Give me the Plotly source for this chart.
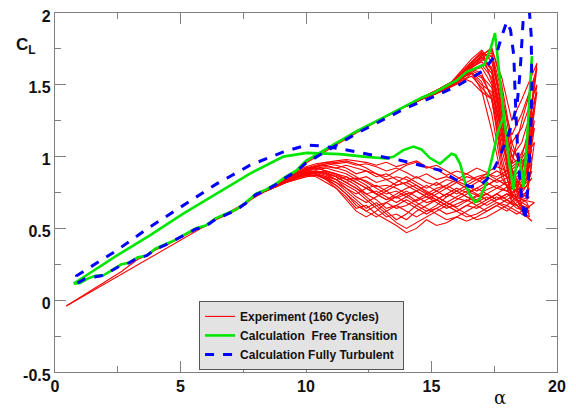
import plotly.graph_objects as go

# ---- experiment (red): shared low-alpha branches ----
exp_up_alpha = [0.45, 1.0, 1.6, 2.2, 2.65, 2.95, 3.3, 3.65, 4.0, 4.4, 4.8, 5.2, 5.6, 6.0,
                6.4, 6.8, 7.2, 7.6, 8.0, 8.4, 8.8, 9.2, 9.6, 10.0, 11.0, 12.0, 13.0, 14.0]
exp_up_cl = [-0.04, 0.02, 0.09, 0.15, 0.20, 0.24, 0.285, 0.31, 0.35, 0.38, 0.415, 0.455, 0.49, 0.515,
             0.56, 0.59, 0.625, 0.67, 0.73, 0.76, 0.80, 0.85, 0.89, 0.955, 1.06, 1.165, 1.26, 1.35]
exp_dn_low_alpha = [8.4, 7.5, 6.0, 4.5, 3.0, 1.5, 0.45]
exp_dn_low_cl = [0.76, 0.67, 0.52, 0.37, 0.22, 0.07, -0.04]

# ---- experiment: individual cycles at high alpha ----
hi_alpha = [14.0, 14.6, 15.2, 15.8, 16.2, 16.6, 17.0, 17.4, 17.8, 18.2, 18.6]
dn_alpha = [18.8, 18.4, 18.0, 17.6, 17.2, 16.8, 16.4, 16.0, 15.6, 15.2, 14.8, 14.4, 14.0, 13.6,
            13.2, 12.8, 12.4, 12.0, 11.6, 11.2, 10.8, 10.4, 10.0, 9.6, 9.2, 8.8, 8.4]
cycle_amax = [19.0, 18.9, 19.2, 18.9, 19.1, 19.0, 19.2, 18.9, 19.0, 19.1, 18.9, 19.1, 19.0, 19.1,
              19.0, 19.2, 18.9, 19.1, 19.0, 19.1, 19.2, 18.9]
cycle_cl_amax = [1.05, 0.72, 1.62, 0.60, 1.20, 0.95, 1.45, 0.58, 0.90, 1.55, 0.64, 1.35, 0.55, 1.10,
                 0.85, 1.65, 0.78, 1.25, 1.00, 0.68, 1.50, 0.62]

cyc01_up = [1.35, 1.40, 1.45, 1.50, 1.56, 1.62, 1.68, 1.74, 1.30, 0.85, 0.80]
cyc02_up = [1.35, 1.40, 1.44, 1.49, 1.52, 1.58, 1.55, 1.42, 1.10, 0.80, 0.70]
cyc03_up = [1.35, 1.41, 1.46, 1.51, 1.58, 1.66, 1.72, 1.60, 1.20, 0.95, 1.25]
cyc04_up = [1.35, 1.40, 1.45, 1.50, 1.55, 1.52, 1.45, 1.40, 0.95, 0.75, 0.65]
cyc05_up = [1.35, 1.40, 1.45, 1.51, 1.57, 1.64, 1.70, 1.76, 1.50, 1.10, 0.90]
cyc06_up = [1.35, 1.40, 1.44, 1.50, 1.54, 1.60, 1.62, 1.50, 1.05, 0.78, 0.85]
cyc07_up = [1.35, 1.41, 1.46, 1.52, 1.60, 1.68, 1.74, 1.66, 1.35, 1.00, 1.10]
cyc08_up = [1.35, 1.40, 1.45, 1.50, 1.55, 1.58, 1.50, 1.45, 1.20, 0.70, 0.62]
cyc09_up = [1.35, 1.40, 1.45, 1.50, 1.56, 1.62, 1.66, 1.58, 1.25, 0.90, 0.78]
cyc10_up = [1.35, 1.41, 1.46, 1.52, 1.58, 1.65, 1.72, 1.70, 1.40, 1.15, 1.30]
cyc11_up = [1.35, 1.40, 1.44, 1.49, 1.53, 1.56, 1.48, 1.40, 1.00, 0.72, 0.66]
cyc12_up = [1.35, 1.40, 1.45, 1.51, 1.57, 1.63, 1.69, 1.62, 1.30, 0.95, 1.00]
cyc13_up = [1.35, 1.40, 1.45, 1.50, 1.56, 1.60, 1.56, 1.48, 1.15, 0.80, 0.62]
cyc14_up = [1.35, 1.41, 1.46, 1.52, 1.58, 1.64, 1.70, 1.72, 1.45, 1.05, 0.95]
cyc15_up = [1.35, 1.40, 1.45, 1.50, 1.55, 1.60, 1.64, 1.55, 1.20, 0.88, 0.75]
cyc16_up = [1.35, 1.41, 1.46, 1.51, 1.57, 1.63, 1.71, 1.75, 1.55, 1.25, 1.40]
cyc17_up = [1.35, 1.40, 1.44, 1.49, 1.54, 1.59, 1.52, 1.30, 0.90, 0.68, 0.72]
cyc18_up = [1.35, 1.40, 1.45, 1.51, 1.56, 1.62, 1.67, 1.70, 1.35, 1.00, 0.92]
cyc19_up = [1.35, 1.40, 1.45, 1.50, 1.56, 1.58, 1.46, 1.18, 0.85, 0.74, 0.80]
cyc20_up = [1.35, 1.41, 1.46, 1.52, 1.59, 1.66, 1.73, 1.52, 1.15, 0.85, 0.70]
cyc21_up = [1.35, 1.40, 1.45, 1.50, 1.55, 1.61, 1.58, 1.40, 1.05, 1.10, 1.20]
cyc22_up = [1.35, 1.40, 1.45, 1.51, 1.57, 1.64, 1.69, 1.60, 1.25, 0.92, 0.66]

cyc01_dn = [0.95, 0.78, 0.72, 0.70, 0.74, 0.72, 0.69, 0.71, 0.74, 0.70, 0.72, 0.76, 0.74, 0.78,
            0.80, 0.79, 0.83, 0.85, 0.84, 0.88, 0.90, 0.89, 0.88, 0.86, 0.83, 0.80, 0.77]
cyc02_dn = [0.70, 0.66, 0.68, 0.72, 0.68, 0.64, 0.66, 0.62, 0.60, 0.64, 0.62, 0.58, 0.62, 0.66,
            0.64, 0.70, 0.74, 0.78, 0.82, 0.86, 0.88, 0.90, 0.89, 0.87, 0.84, 0.80, 0.77]
cyc03_dn = [1.05, 0.92, 0.85, 0.82, 0.86, 0.84, 0.80, 0.83, 0.86, 0.84, 0.88, 0.85, 0.89, 0.92,
            0.90, 0.93, 0.95, 0.94, 0.96, 0.95, 0.96, 0.94, 0.92, 0.88, 0.85, 0.81, 0.77]
cyc04_dn = [0.62, 0.64, 0.70, 0.66, 0.62, 0.66, 0.70, 0.67, 0.64, 0.68, 0.72, 0.69, 0.74, 0.71,
            0.76, 0.80, 0.78, 0.82, 0.86, 0.84, 0.87, 0.89, 0.87, 0.85, 0.82, 0.79, 0.76]
cyc05_dn = [0.85, 0.80, 0.76, 0.78, 0.82, 0.78, 0.75, 0.78, 0.74, 0.70, 0.66, 0.62, 0.56, 0.60,
            0.58, 0.64, 0.70, 0.76, 0.80, 0.84, 0.86, 0.88, 0.90, 0.88, 0.84, 0.80, 0.77]
cyc06_dn = [0.75, 0.72, 0.76, 0.80, 0.77, 0.73, 0.76, 0.72, 0.68, 0.72, 0.75, 0.80, 0.84, 0.86,
            0.84, 0.88, 0.90, 0.92, 0.94, 0.92, 0.93, 0.92, 0.91, 0.89, 0.85, 0.81, 0.77]
cyc07_dn = [0.92, 0.86, 0.82, 0.78, 0.74, 0.70, 0.72, 0.76, 0.80, 0.78, 0.74, 0.70, 0.66, 0.64,
            0.68, 0.66, 0.62, 0.66, 0.74, 0.80, 0.84, 0.87, 0.86, 0.84, 0.82, 0.79, 0.76]
cyc08_dn = [0.66, 0.70, 0.74, 0.70, 0.74, 0.78, 0.74, 0.70, 0.66, 0.62, 0.58, 0.54, 0.50, 0.54,
            0.60, 0.66, 0.72, 0.78, 0.82, 0.86, 0.88, 0.90, 0.88, 0.86, 0.83, 0.80, 0.77]
cyc09_dn = [0.80, 0.74, 0.70, 0.74, 0.70, 0.66, 0.62, 0.58, 0.56, 0.60, 0.64, 0.68, 0.72, 0.76,
            0.74, 0.78, 0.82, 0.86, 0.90, 0.92, 0.94, 0.93, 0.91, 0.88, 0.84, 0.80, 0.77]
cyc10_dn = [0.98, 0.88, 0.90, 0.86, 0.88, 0.84, 0.86, 0.82, 0.84, 0.80, 0.82, 0.86, 0.82, 0.80,
            0.84, 0.82, 0.86, 0.84, 0.88, 0.90, 0.92, 0.91, 0.90, 0.87, 0.84, 0.80, 0.77]
cyc11_dn = [0.68, 0.72, 0.66, 0.68, 0.64, 0.60, 0.58, 0.62, 0.66, 0.70, 0.68, 0.72, 0.76, 0.72,
            0.68, 0.62, 0.58, 0.62, 0.70, 0.78, 0.84, 0.88, 0.88, 0.86, 0.83, 0.79, 0.76]
cyc12_dn = [0.88, 0.82, 0.86, 0.90, 0.86, 0.82, 0.78, 0.74, 0.78, 0.82, 0.78, 0.82, 0.86, 0.82,
            0.78, 0.74, 0.78, 0.82, 0.86, 0.88, 0.90, 0.92, 0.90, 0.88, 0.85, 0.81, 0.77]
cyc13_dn = [0.58, 0.62, 0.66, 0.62, 0.58, 0.56, 0.60, 0.64, 0.68, 0.72, 0.76, 0.80, 0.78, 0.74,
            0.70, 0.74, 0.78, 0.74, 0.78, 0.82, 0.85, 0.87, 0.86, 0.84, 0.82, 0.79, 0.76]
cyc14_dn = [0.72, 0.76, 0.80, 0.84, 0.88, 0.86, 0.82, 0.86, 0.90, 0.94, 0.92, 0.96, 0.94, 0.90,
            0.86, 0.88, 0.92, 0.95, 0.97, 0.96, 0.95, 0.93, 0.92, 0.89, 0.85, 0.81, 0.77]
cyc15_dn = [0.82, 0.76, 0.79, 0.74, 0.70, 0.73, 0.69, 0.65, 0.68, 0.64, 0.60, 0.64, 0.68, 0.72,
            0.70, 0.74, 0.80, 0.84, 0.82, 0.86, 0.89, 0.90, 0.89, 0.86, 0.83, 0.80, 0.77]
cyc16_dn = [1.10, 0.96, 0.90, 0.93, 0.89, 0.92, 0.88, 0.90, 0.87, 0.91, 0.93, 0.97, 0.95, 0.93,
            0.96, 0.94, 0.96, 0.97, 0.98, 0.97, 0.96, 0.95, 0.93, 0.90, 0.86, 0.81, 0.77]
cyc17_dn = [0.74, 0.68, 0.62, 0.66, 0.62, 0.58, 0.55, 0.58, 0.54, 0.52, 0.56, 0.50, 0.47, 0.52,
            0.56, 0.60, 0.66, 0.64, 0.72, 0.78, 0.82, 0.86, 0.87, 0.85, 0.83, 0.79, 0.76]
cyc18_dn = [0.90, 0.84, 0.80, 0.84, 0.80, 0.76, 0.80, 0.76, 0.72, 0.76, 0.80, 0.76, 0.72, 0.68,
            0.72, 0.76, 0.74, 0.80, 0.84, 0.87, 0.90, 0.92, 0.90, 0.87, 0.84, 0.80, 0.77]
cyc19_dn = [0.86, 0.72, 0.74, 0.70, 0.66, 0.70, 0.66, 0.62, 0.66, 0.70, 0.74, 0.78, 0.82, 0.80,
            0.76, 0.72, 0.68, 0.72, 0.78, 0.84, 0.88, 0.89, 0.88, 0.86, 0.83, 0.80, 0.77]
cyc20_dn = [0.64, 0.60, 0.64, 0.68, 0.72, 0.68, 0.72, 0.76, 0.72, 0.66, 0.62, 0.66, 0.60, 0.56,
            0.62, 0.68, 0.64, 0.70, 0.76, 0.82, 0.86, 0.88, 0.88, 0.86, 0.83, 0.79, 0.76]
cyc21_dn = [1.00, 0.94, 0.88, 0.84, 0.80, 0.84, 0.88, 0.84, 0.80, 0.76, 0.72, 0.76, 0.80, 0.84,
            0.88, 0.86, 0.90, 0.88, 0.92, 0.94, 0.95, 0.93, 0.91, 0.88, 0.85, 0.81, 0.77]
cyc22_dn = [0.62, 0.66, 0.70, 0.74, 0.70, 0.74, 0.78, 0.82, 0.78, 0.74, 0.70, 0.66, 0.70, 0.66,
            0.62, 0.58, 0.62, 0.68, 0.74, 0.80, 0.85, 0.87, 0.87, 0.85, 0.82, 0.79, 0.76]

# ---- calculation, free transition (green) ----
green_up_alpha = [0.75, 1.0, 1.3, 1.6, 1.95, 2.3, 2.65, 2.95, 3.3, 3.65, 4.0, 4.4, 4.8, 5.2, 5.6,
                  6.0, 6.4, 6.8, 7.2, 7.6, 8.0, 8.4, 8.8, 9.2, 9.6, 10.0, 11.0, 12.0, 13.0, 14.0,
                  14.6, 15.1, 15.6, 16.0, 16.4, 16.8, 17.1, 17.35, 17.53, 17.75, 17.95, 18.1,
                  18.26, 18.38, 18.5, 18.58, 18.66, 18.8, 18.92, 19.0]
green_up_cl = [0.115, 0.12, 0.15, 0.17, 0.175, 0.21, 0.25, 0.26, 0.30, 0.31, 0.36, 0.39, 0.42,
               0.46, 0.50, 0.52, 0.57, 0.60, 0.63, 0.68, 0.74, 0.77, 0.81, 0.86, 0.90, 0.97,
               1.075, 1.175, 1.265, 1.355, 1.41, 1.445, 1.49, 1.53, 1.59, 1.62, 1.64, 1.75, 1.86,
               1.50, 1.20, 0.95, 0.77, 0.95, 0.99, 0.88, 0.79, 1.10, 1.50, 1.70]
green_dn_alpha = [17.92, 17.66, 17.4, 17.13, 16.9, 16.73, 16.5, 16.33, 16.14, 15.95, 15.8, 15.6,
                  15.34, 14.94, 14.6, 14.28, 13.88, 13.5, 13.2, 12.3, 11.35, 10.03, 9.1, 7.77,
                  6.44, 5.11, 3.78, 2.46, 1.13, 0.8, 0.75]
green_dn_cl = [1.30, 1.18, 0.98, 0.79, 0.70, 0.684, 0.74, 0.824, 0.95, 1.01, 1.02, 0.99, 0.95,
               0.99, 1.05, 1.07, 1.045, 1.0, 0.987, 1.0, 1.017, 1.026, 1.0, 0.882, 0.743, 0.603,
               0.452, 0.31, 0.16, 0.12, 0.115]

# ---- calculation, fully turbulent (blue) ----
blue_up_alpha = [0.9, 1.2, 1.5, 1.85, 2.2, 2.6, 2.95, 3.3, 3.65, 4.0, 4.4, 4.8, 5.2, 5.6, 6.0,
                 6.4, 6.8, 7.2, 7.6, 8.0, 8.4, 8.8, 9.2, 9.6, 10.0, 11.0, 12.0, 13.0, 14.0, 15.0,
                 15.5, 16.0, 16.4, 16.9, 17.3, 17.6, 17.8, 18.0, 18.15, 18.28, 18.33, 18.4, 18.5,
                 18.6, 18.73, 18.85, 18.95, 19.0, 18.97, 18.9, 18.82]
blue_up_cl = [0.12, 0.15, 0.16, 0.17, 0.20, 0.24, 0.26, 0.295, 0.31, 0.355, 0.385, 0.42, 0.455,
              0.495, 0.515, 0.565, 0.595, 0.625, 0.675, 0.735, 0.765, 0.805, 0.855, 0.895, 0.955,
              1.06, 1.16, 1.25, 1.34, 1.41, 1.45, 1.49, 1.53, 1.58, 1.65, 1.72, 1.84, 1.94, 1.88,
              1.70, 1.45, 1.15, 0.88, 0.70, 0.556, 0.80, 1.15, 1.50, 1.85, 2.10, 2.20]
blue_dn_alpha = [18.72, 18.62, 18.53, 18.42, 18.25, 18.08, 17.93, 17.7, 17.46, 17.2, 16.93, 16.53,
                 16.0, 15.34, 14.54, 13.75, 12.68, 11.35, 10.5, 10.03, 9.1, 7.77, 6.44, 5.11,
                 3.78, 2.46, 1.5, 1.0, 0.86, 0.86, 0.9]
blue_dn_cl = [2.15, 1.85, 1.59, 1.38, 1.25, 1.16, 1.09, 0.99, 0.905, 0.84, 0.80, 0.79, 0.835,
              0.905, 0.94, 0.975, 1.01, 1.056, 1.075, 1.08, 1.033, 0.94, 0.81, 0.66, 0.51, 0.347,
              0.24, 0.19, 0.17, 0.13, 0.12]

x_tickvals = [0, 5, 10, 15, 20]
y_tickvals = [-0.5, 0, 0.5, 1, 1.5, 2]
y_ticktext = ["-0.5", "0", "0.5", "1", "1.5", "2"]

cycles_up = [cyc01_up, cyc02_up, cyc03_up, cyc04_up, cyc05_up, cyc06_up, cyc07_up, cyc08_up,
             cyc09_up, cyc10_up, cyc11_up, cyc12_up, cyc13_up, cyc14_up, cyc15_up, cyc16_up,
             cyc17_up, cyc18_up, cyc19_up, cyc20_up, cyc21_up, cyc22_up]
cycles_dn = [cyc01_dn, cyc02_dn, cyc03_dn, cyc04_dn, cyc05_dn, cyc06_dn, cyc07_dn, cyc08_dn,
             cyc09_dn, cyc10_dn, cyc11_dn, cyc12_dn, cyc13_dn, cyc14_dn, cyc15_dn, cyc16_dn,
             cyc17_dn, cyc18_dn, cyc19_dn, cyc20_dn, cyc21_dn, cyc22_dn]

RED = "#ff0000"
red_line = dict(color=RED, width=1.1)

fig = go.Figure()
fig.add_trace(go.Scatter(x=exp_up_alpha, y=exp_up_cl, mode="lines", line=red_line,
                         name="Experiment (160 Cycles)", legendgroup="exp", showlegend=True))
fig.add_trace(go.Scatter(x=exp_dn_low_alpha, y=exp_dn_low_cl, mode="lines", line=red_line,
                         legendgroup="exp", showlegend=False))
for up, dn, amax, clmax in zip(cycles_up, cycles_dn, cycle_amax, cycle_cl_amax):
    fig.add_trace(go.Scatter(x=hi_alpha + [amax] + dn_alpha, y=up + [clmax] + dn,
                             mode="lines", line=red_line,
                             legendgroup="exp", showlegend=False))

fig.add_trace(go.Scatter(x=green_up_alpha + [None] + green_dn_alpha,
                         y=green_up_cl + [None] + green_dn_cl,
                         mode="lines", line=dict(color="#00e600", width=2.6),
                         name="Calculation  Free Transition", connectgaps=False))
fig.add_trace(go.Scatter(x=blue_up_alpha + blue_dn_alpha, y=blue_up_cl + blue_dn_cl,
                         mode="lines", line=dict(color="#0000ff", width=3, dash="dash"),
                         name="Calculation Fully Turbulent"))

tickfont = dict(family="Liberation Sans, Arial", size=16, color="#111111", weight="bold")
axis_common = dict(showline=True, linecolor="#7f7f7f", linewidth=1.3, mirror="allticks",
                   ticks="inside", ticklen=11, tickwidth=1.3, tickcolor="#7f7f7f",
                   showgrid=False, zeroline=False, tickfont=tickfont, automargin=False,
                   ticklabeloverflow="allow")

# the page body adds an 8 px offset, so the figure is 8 px smaller than the window
fig.update_layout(
    width=568, height=400,
    margin=dict(l=47, r=19, t=5, b=36),
    paper_bgcolor="white", plot_bgcolor="white",
    xaxis=dict(range=[0, 20], tickvals=x_tickvals,
               minor=dict(ticks="inside", ticklen=6, tickcolor="#7f7f7f", dtick=2.5, tick0=0),
               **axis_common),
    yaxis=dict(range=[-0.5, 2], tickvals=y_tickvals, ticktext=y_ticktext, ticklabelshift=3,
               minor=dict(ticks="inside", ticklen=6, tickcolor="#7f7f7f", dtick=0.25, tick0=0),
               **axis_common),
    legend=dict(x=0.287, y=0.198, xanchor="left", yanchor="top",
                bgcolor="#e3e3e3", bordercolor="#555555", borderwidth=1,
                font=dict(family="Liberation Sans, Arial", size=12, color="#111111",
                          weight="bold"),
                tracegroupgap=0, itemwidth=30),
    showlegend=True,
)

fig.add_annotation(text="<b>C<sub>L</sub></b>", xref="paper", yref="paper",
                   x=-0.058, y=0.908, xanchor="center", yanchor="middle", showarrow=False,
                   font=dict(family="Liberation Sans, Arial", size=17, color="#111111"))
fig.add_annotation(text="α", xref="paper", yref="paper", x=0.886, y=-0.07,
                   xanchor="center", yanchor="middle", showarrow=False,
                   font=dict(family="DejaVu Serif, serif", size=18, color="#111111"))

fig.write_html("out.html")
